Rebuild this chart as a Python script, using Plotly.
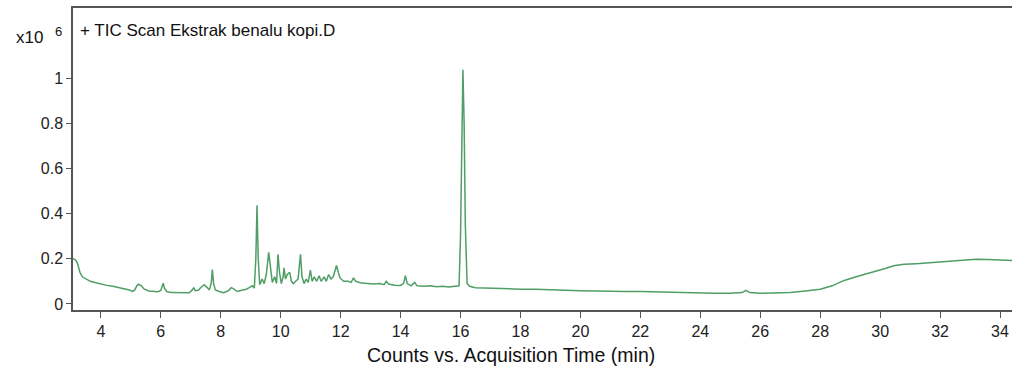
import plotly.graph_objects as go

time_min = [3.07, 3.15, 3.22, 3.3, 3.38, 3.5, 3.65, 3.8, 4.0, 4.2, 4.4, 4.6, 4.8, 4.95, 5.05, 5.12, 5.2, 5.26, 5.35, 5.45,
            5.6, 5.75, 5.9, 6.0, 6.05, 6.08, 6.12, 6.2, 6.35, 6.6, 6.8, 6.95, 7.05, 7.1, 7.15, 7.25, 7.35, 7.45, 7.55, 7.62,
            7.68, 7.72, 7.76, 7.82, 7.95, 8.1, 8.25, 8.35, 8.42, 8.55, 8.7, 8.85, 8.95, 9.05, 9.12, 9.17, 9.21, 9.25, 9.3, 9.38,
            9.45, 9.52, 9.6, 9.66, 9.72, 9.8, 9.86, 9.91, 9.96, 10.02, 10.08, 10.11, 10.16, 10.22, 10.3, 10.36, 10.42, 10.5, 10.58, 10.66,
            10.71, 10.78, 10.85, 10.92, 10.99, 11.05, 11.12, 11.2, 11.28, 11.35, 11.45, 11.52, 11.6, 11.68, 11.75, 11.82, 11.86, 11.92, 11.98, 12.1,
            12.25, 12.35, 12.43, 12.5, 12.7, 12.9, 13.1, 13.3, 13.45, 13.52, 13.6, 13.8, 14.0, 14.1, 14.16, 14.22, 14.35, 14.47, 14.55, 14.8,
            15.0, 15.2, 15.4, 15.6, 15.8, 15.95, 16.0, 16.04, 16.08, 16.12, 16.16, 16.22, 16.3, 16.5, 16.8, 17.0, 17.5, 18.0, 18.5, 19.0,
            19.5, 20.0, 20.5, 21.0, 21.5, 22.0, 22.5, 23.0, 23.5, 24.0, 24.5, 25.0, 25.4, 25.52, 25.65, 26.0, 26.5, 27.0, 27.5, 28.0,
            28.4, 28.8, 29.2, 29.6, 29.9, 30.2, 30.45, 30.8, 31.2, 31.6, 31.9, 32.3, 32.7, 33.0, 33.2, 33.6, 34.0, 34.4]

counts_e6 = [0.20, 0.195, 0.18, 0.14, 0.12, 0.11, 0.10, 0.095, 0.088, 0.082, 0.078, 0.072, 0.068, 0.062, 0.055, 0.06, 0.08, 0.087, 0.08, 0.065,
             0.057, 0.055, 0.054, 0.06, 0.078, 0.092, 0.07, 0.055, 0.05, 0.049, 0.048, 0.049, 0.062, 0.072, 0.058, 0.06, 0.075, 0.085, 0.072, 0.062,
             0.09, 0.152, 0.09, 0.062, 0.055, 0.05, 0.058, 0.072, 0.068, 0.055, 0.06, 0.065, 0.072, 0.08, 0.07, 0.2, 0.437, 0.2, 0.085, 0.11,
             0.09, 0.13, 0.228, 0.15, 0.095, 0.12, 0.09, 0.22, 0.14, 0.09, 0.12, 0.16, 0.11, 0.13, 0.14, 0.1, 0.09, 0.1, 0.11, 0.22,
             0.12, 0.09, 0.11, 0.095, 0.15, 0.1, 0.12, 0.1, 0.125, 0.1, 0.12, 0.1, 0.13, 0.11, 0.12, 0.15, 0.17, 0.14, 0.115, 0.1,
             0.1, 0.095, 0.115, 0.1, 0.092, 0.09, 0.088, 0.09, 0.085, 0.1, 0.088, 0.083, 0.082, 0.09, 0.125, 0.09, 0.08, 0.095, 0.08, 0.078,
             0.08, 0.076, 0.078, 0.075, 0.076, 0.08, 0.3, 0.8, 1.037, 0.8, 0.35, 0.09, 0.078, 0.072, 0.07, 0.07, 0.068, 0.065, 0.065, 0.062,
             0.06, 0.058, 0.057, 0.055, 0.055, 0.055, 0.053, 0.052, 0.05, 0.048, 0.047, 0.047, 0.05, 0.06, 0.05, 0.047, 0.047, 0.05, 0.057, 0.065,
             0.08, 0.104, 0.12, 0.135, 0.144, 0.158, 0.169, 0.175, 0.178, 0.182, 0.184, 0.186, 0.19, 0.195, 0.198, 0.197, 0.193, 0.192]

x_ticks = list(range(4, 35, 2))
y_ticks = [0, 0.2, 0.4, 0.6, 0.8, 1]
y_tick_text = ["0", "0.2", "0.4", "0.6", "0.8", "1"]

trace_title = "+ TIC Scan Ekstrak benalu kopi.D"
x_title = "Counts vs. Acquisition Time (min)"

fig = go.Figure()
fig.add_trace(go.Scatter(x=time_min, y=counts_e6, mode="lines",
                         line=dict(color="#4f9e66", width=1.5), hoverinfo="skip"))

font_family = "Liberation Sans, Arial, sans-serif"
fig.update_layout(
    width=1012, height=370,
    margin=dict(l=73, r=0, t=8, b=60),
    paper_bgcolor="white", plot_bgcolor="white",
    showlegend=False,
    font=dict(family=font_family, size=16, color="#222"),
)
fig.update_xaxes(range=[3.07, 34.4], tickvals=x_ticks, ticks="outside", ticklen=6, tickcolor="#555",
                 showline=True, linecolor="#555", linewidth=1.5, mirror=True, showgrid=False, zeroline=False,
                 tickfont=dict(size=16, color="#222"))
fig.update_yaxes(range=[-0.027, 1.31], tickvals=y_ticks, ticktext=y_tick_text, ticks="outside", ticklen=5,
                 tickcolor="#555", showline=True, linecolor="#555", linewidth=1.5, showgrid=False, zeroline=False,
                 tickfont=dict(size=16, color="#222"))

H = 302.0
fig.add_annotation(text=trace_title, xref="paper", yref="paper", x=0, xshift=5, y=(310 - 31) / H,
                   xanchor="left", yanchor="middle", showarrow=False, font=dict(size=17, color="#111"))
fig.add_annotation(text="x10", xref="paper", yref="paper", x=(14 - 73) / 939, y=(310 - 38) / H,
                   xanchor="left", yanchor="middle", showarrow=False, font=dict(size=17, color="#111"))
fig.add_annotation(text="6", xref="paper", yref="paper", x=(53 - 73) / 939, y=(310 - 32) / H,
                   xanchor="left", yanchor="middle", showarrow=False, font=dict(size=13, color="#111"))
fig.add_annotation(text=x_title, xref="paper", yref="paper", x=(511 - 73) / 939, y=(310 - 355) / H,
                   xanchor="center", yanchor="middle", showarrow=False, font=dict(size=19.5, color="#111"))

# remove the browser's default 8px body margin so the figure fills the 1012x370 window
fig.write_html("out.html", config={"displayModeBar": False},
               post_script="document.body.style.margin='0';")
